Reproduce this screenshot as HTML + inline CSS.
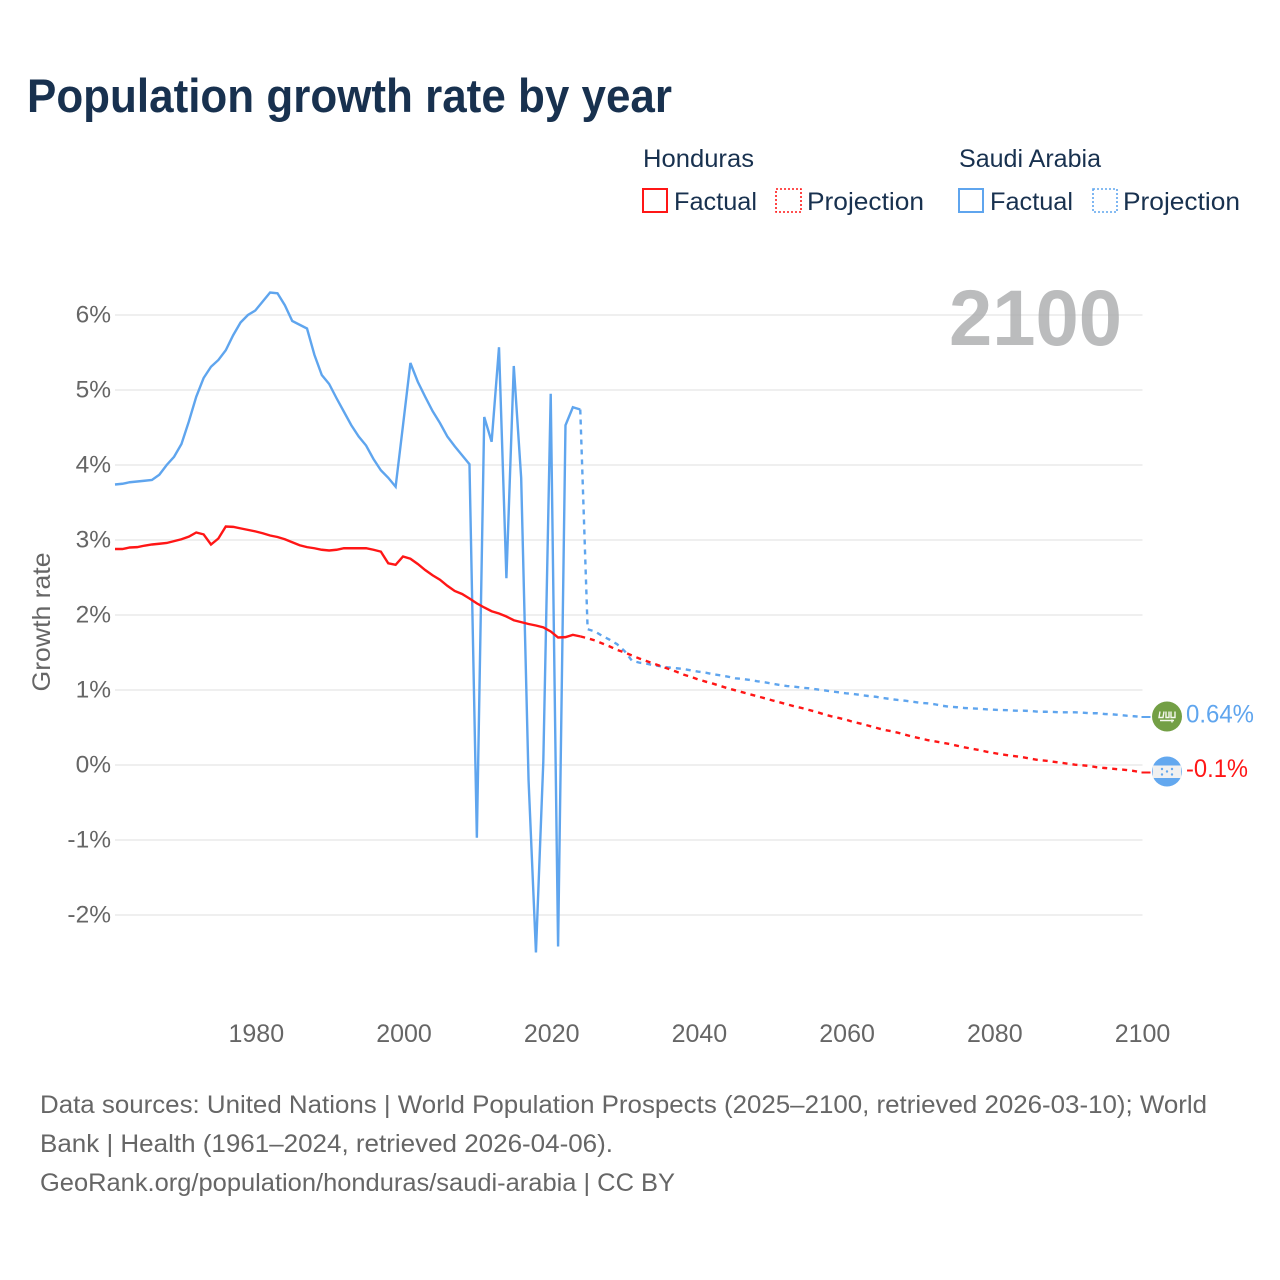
<!DOCTYPE html>
<html lang="en">
<head>
<meta charset="utf-8">
<title>Population growth rate by year</title>
<style>
html,body{margin:0;padding:0;background:#fff;}
svg{display:block;font-family:"Liberation Sans",sans-serif;}
.leg{font-size:25px;fill:#18314f;}
.foot{font-size:25px;fill:#666;}
</style>
</head>
<body>
<svg id="chart" xmlns="http://www.w3.org/2000/svg" width="1280" height="1280" viewBox="0 0 1280 1280">
  <rect x="0" y="0" width="1280" height="1280" fill="#ffffff"/>
  <text x="27" y="112" font-size="47" font-weight="700" fill="#18314f" textLength="645" lengthAdjust="spacingAndGlyphs">Population growth rate by year</text>

  <g>
    <text class="leg" x="643" y="167" textLength="111" lengthAdjust="spacingAndGlyphs">Honduras</text>
    <text class="leg" x="959" y="167" textLength="142" lengthAdjust="spacingAndGlyphs">Saudi Arabia</text>

    <rect x="643" y="189" width="24" height="23" fill="none" stroke="#ff1616" stroke-width="2"/>
    <text class="leg" x="674" y="210" textLength="83" lengthAdjust="spacingAndGlyphs">Factual</text>
    <rect x="776" y="189" width="25" height="23" fill="none" stroke="#ff1616" stroke-width="1.6" stroke-dasharray="2 2"/>
    <text class="leg" x="807" y="210" textLength="117" lengthAdjust="spacingAndGlyphs">Projection</text>

    <rect x="959" y="189" width="24" height="23" fill="none" stroke="#5fa5ee" stroke-width="2"/>
    <text class="leg" x="990" y="210" textLength="83" lengthAdjust="spacingAndGlyphs">Factual</text>
    <rect x="1093" y="189" width="24" height="23" fill="none" stroke="#5fa5ee" stroke-width="1.6" stroke-dasharray="2 2"/>
    <text class="leg" x="1123" y="210" textLength="117" lengthAdjust="spacingAndGlyphs">Projection</text>
  </g>

  <g id="grid"></g>
  <g id="ylabels"></g>
  <g id="xlabels"></g>
  <text transform="translate(50,622) rotate(-90)" text-anchor="middle" font-size="25" fill="#666" textLength="139" lengthAdjust="spacingAndGlyphs">Growth rate</text>

  <text x="949" y="345" font-size="79" font-weight="700" fill="#aaabad" fill-opacity="0.8" textLength="173" lengthAdjust="spacingAndGlyphs">2100</text>

  <g id="series"></g>
  <g id="endpoints"></g>

  <g>
    <text class="foot" x="40" y="1113" textLength="1167" lengthAdjust="spacingAndGlyphs">Data sources: United Nations | World Population Prospects (2025–2100, retrieved 2026-03-10); World</text>
    <text class="foot" x="40" y="1152" textLength="573" lengthAdjust="spacingAndGlyphs">Bank | Health (1961–2024, retrieved 2026-04-06).</text>
    <text class="foot" x="40" y="1191" textLength="635" lengthAdjust="spacingAndGlyphs">GeoRank.org/population/honduras/saudi-arabia | CC BY</text>
  </g>
</svg>
<script>
const factualYears = [1961,1962,1963,1964,1965,1966,1967,1968,1969,1970,1971,1972,1973,1974,1975,1976,1977,1978,1979,1980,1981,1982,1983,1984,1985,1986,1987,1988,1989,1990,1991,1992,1993,1994,1995,1996,1997,1998,1999,2000,2001,2002,2003,2004,2005,2006,2007,2008,2009,2010,2011,2012,2013,2014,2015,2016,2017,2018,2019,2020,2021,2022,2023,2024];
const projectionYears = [2025,2026,2027,2028,2029,2030,2031,2032,2033,2034,2035,2036,2037,2038,2039,2040,2041,2042,2043,2044,2045,2046,2047,2048,2049,2050,2051,2052,2053,2054,2055,2056,2057,2058,2059,2060,2061,2062,2063,2064,2065,2066,2067,2068,2069,2070,2071,2072,2073,2074,2075,2076,2077,2078,2079,2080,2081,2082,2083,2084,2085,2086,2087,2088,2089,2090,2091,2092,2093,2094,2095,2096,2097,2098,2099,2100];
const saudiFactual = [3.74,3.75,3.77,3.78,3.79,3.80,3.87,4.00,4.11,4.28,4.58,4.91,5.16,5.31,5.40,5.53,5.73,5.90,6.00,6.06,6.18,6.30,6.29,6.13,5.92,5.87,5.82,5.47,5.20,5.08,4.89,4.71,4.53,4.38,4.26,4.08,3.93,3.83,3.71,4.53,5.36,5.11,4.91,4.72,4.56,4.38,4.25,4.13,4.01,-0.97,4.64,4.31,5.57,2.49,5.32,3.83,-0.20,-2.50,0.05,4.95,-2.42,4.53,4.77,4.74];
const hondurasFactual = [2.88,2.88,2.90,2.905,2.925,2.94,2.95,2.96,2.985,3.01,3.045,3.10,3.075,2.94,3.02,3.18,3.175,3.155,3.135,3.115,3.09,3.06,3.04,3.01,2.97,2.93,2.905,2.89,2.87,2.86,2.87,2.89,2.89,2.89,2.89,2.87,2.845,2.69,2.67,2.78,2.75,2.68,2.60,2.53,2.47,2.39,2.32,2.28,2.22,2.155,2.10,2.05,2.02,1.98,1.93,1.905,1.88,1.86,1.835,1.78,1.70,1.705,1.735,1.715];
const saudiProjection = [1.81,1.78,1.72,1.67,1.61,1.52,1.39,1.365,1.35,1.33,1.315,1.30,1.29,1.28,1.262,1.245,1.231,1.209,1.196,1.178,1.156,1.147,1.133,1.116,1.102,1.084,1.067,1.053,1.044,1.031,1.022,1.009,0.996,0.982,0.969,0.956,0.947,0.933,0.92,0.91,0.893,0.88,0.867,0.857,0.844,0.83,0.822,0.81,0.79,0.777,0.77,0.76,0.755,0.75,0.742,0.737,0.733,0.73,0.724,0.724,0.72,0.71,0.71,0.707,0.702,0.702,0.702,0.698,0.69,0.69,0.68,0.676,0.667,0.657,0.65,0.64];
const hondurasProjection = [1.69,1.66,1.62,1.58,1.535,1.50,1.46,1.42,1.385,1.35,1.315,1.28,1.245,1.205,1.175,1.14,1.111,1.084,1.053,1.022,0.996,0.969,0.942,0.916,0.889,0.862,0.836,0.809,0.782,0.76,0.733,0.707,0.676,0.649,0.627,0.604,0.573,0.551,0.525,0.498,0.471,0.453,0.431,0.404,0.378,0.356,0.333,0.316,0.298,0.28,0.258,0.236,0.218,0.2,0.178,0.16,0.142,0.129,0.116,0.102,0.084,0.067,0.058,0.044,0.031,0.018,0.004,-0.004,-0.013,-0.031,-0.04,-0.049,-0.058,-0.067,-0.08,-0.1];
const yTicks = [6,5,4,3,2,1,0,-1,-2];
const xTicks = [1980,2000,2020,2040,2060,2080,2100];

const SVGNS = 'http://www.w3.org/2000/svg';
const BLUE = '#5fa5ee';
const RED = '#ff1616';
const X0 = 115, X1 = 1141.5, Y0 = 765, PER_UNIT = 75;
const LABEL_SHIFT = 1;
const GRID_RIGHT = 1142.5;
const YEAR_MIN = factualYears[0];
const YEAR_MAX = projectionYears[projectionYears.length - 1];

function xScale(year) { return X0 + (year - YEAR_MIN) * (X1 - X0) / (YEAR_MAX - YEAR_MIN); }
function yScale(value) { return Y0 - value * PER_UNIT; }
function make(tag, attrs, parent) {
  const el = document.createElementNS(SVGNS, tag);
  for (const k in attrs) el.setAttribute(k, attrs[k]);
  parent.appendChild(el);
  return el;
}
function linePath(years, values) {
  return years.map((y, i) => (i ? 'L' : 'M') + xScale(y).toFixed(2) + ' ' + yScale(values[i]).toFixed(2)).join(' ');
}
function fmtPct(v) { return v + '%'; }

const gridG = document.getElementById('grid');
const yLabG = document.getElementById('ylabels');
const xLabG = document.getElementById('xlabels');
const seriesG = document.getElementById('series');
const endG = document.getElementById('endpoints');

yTicks.forEach(function (t) {
  const line = make('line', {x1: X0, x2: GRID_RIGHT, y1: yScale(t), y2: yScale(t), stroke: '#efefef', 'stroke-width': 2}, gridG);
  
  
  const label = make('text', {x: 111, y: yScale(t) + 7.5, 'text-anchor': 'end', 'font-size': 24.5, fill: '#666'}, yLabG);
  label.textContent = fmtPct(t);
  
  
});

xTicks.forEach(function (t) {
  const label = make('text', {x: xScale(t) + LABEL_SHIFT, y: 1042, 'text-anchor': 'middle', 'font-size': 25, fill: '#666'}, xLabG);
  label.textContent = String(t);
  
  
});

function drawSeries(key, color, factual, projection) {
  const fYears = factualYears;
  const fLastYear = fYears[fYears.length - 1];
  const fLast = factual[factual.length - 1];
  const solid = make('path', {d: linePath(fYears, factual), fill: 'none', stroke: color, 'stroke-width': 2.4, 'stroke-linejoin': 'miter'}, seriesG);
  
  
  const dashed = make('path', {d: linePath([fLastYear].concat(projectionYears), [fLast].concat(projection)), fill: 'none', stroke: color, 'stroke-width': 2.4, 'stroke-dasharray': '5 5'}, seriesG);
  
  
}
drawSeries('saudi-arabia', BLUE, saudiFactual, saudiProjection);
drawSeries('honduras', RED, hondurasFactual, hondurasProjection);

const saudiEnd = saudiProjection[saudiProjection.length - 1];
const hondurasEnd = hondurasProjection[hondurasProjection.length - 1];
const endX = xScale(YEAR_MAX);

function drawConnector(key, color, value) {
  const c = make('line', {x1: endX, x2: endX + 9, y1: yScale(value), y2: yScale(value), stroke: color, 'stroke-width': 2}, endG);
  
  
}
drawConnector('saudi-arabia', BLUE, saudiEnd);
drawConnector('honduras', RED, hondurasEnd);

/* Saudi flag badge */
const sy = yScale(saudiEnd);
const flagX = endX + 25.5;
const sFlag = make('g', {transform: 'translate(' + flagX + ',' + (sy - 0.5) + ')'}, endG);


make('circle', {cx: 0, cy: 0, r: 15, fill: '#739f45'}, sFlag);
make('path', {d: 'M-7 -5 L-8 1 L-4 1 L-3 -5 M-1 -5 L-1 1 L2 1 L2 -5 M4 -5 L4 1 L8 1 L8 -5', fill: 'none', stroke: '#f4f7ee', 'stroke-width': 1.4}, sFlag);
make('path', {d: 'M-7 4 L7 4 M5 3 L5 6', fill: 'none', stroke: '#f4f7ee', 'stroke-width': 1.5}, sFlag);

/* Honduras flag badge */
const hy = yScale(hondurasEnd) - 1;
const hFlag = make('g', {transform: 'translate(' + flagX + ',' + hy + ')'}, endG);


make('circle', {cx: 0, cy: 0, r: 15, fill: '#63a8ef'}, hFlag);
make('rect', {x: -14.2, y: -6, width: 28.4, height: 12.5, fill: '#f0f0f0'}, hFlag);
[[-5, -2.5], [5, -2.5], [0, 0], [-5, 3], [5, 3]].forEach(function (p) {
  make('circle', {cx: p[0], cy: p[1], r: 1.2, fill: '#63a8ef'}, hFlag);
});

const sLabel = make('text', {x: endX + 44.5, y: sy + 5.5, 'font-size': 25, fill: BLUE, textLength: 68, lengthAdjust: 'spacingAndGlyphs'}, endG);
sLabel.textContent = fmtPct(saudiEnd);



const hLabel = make('text', {x: endX + 44.5, y: hy + 5.5, 'font-size': 25, fill: RED, textLength: 62, lengthAdjust: 'spacingAndGlyphs'}, endG);
hLabel.textContent = fmtPct(hondurasEnd);


</script>
</body>
</html>
